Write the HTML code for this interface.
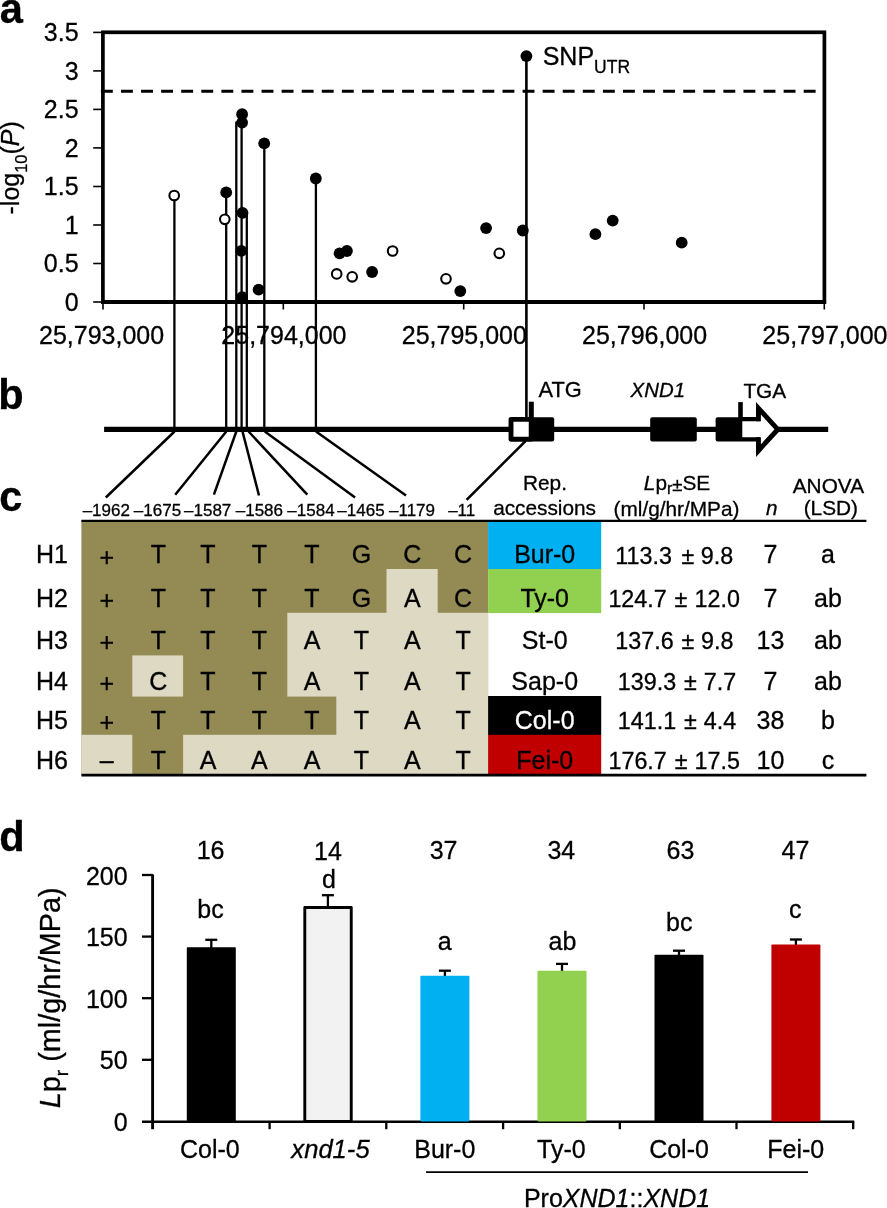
<!DOCTYPE html>
<html lang="en"><head><meta charset="utf-8"><title>Figure</title>
<style>html,body{margin:0;padding:0;background:#fff;}body{width:887px;height:1208px;overflow:hidden;}svg{display:block;font-family:"Liberation Sans",sans-serif;fill:#000;}.m{font-size:25px}.s{font-size:17px}.h{font-size:20.8px}.pl{font-size:41.6px;font-weight:bold}.i{font-style:italic}.mid{text-anchor:middle}.end{text-anchor:end}text{stroke:#000;stroke-width:.3px}.ln{stroke:#000;stroke-width:2.3;fill:none}.dg{stroke:#000;stroke-width:2.5;fill:none}</style></head><body>
<svg width="887" height="1208" viewBox="0 0 887 1208">
<rect width="887" height="1208" fill="#fff"/>
<g id="panel-a">
<text class="pl" x="-0.2" y="22.8">a</text>
<line x1="93.2" x2="102" y1="302.0" y2="302.0" stroke="#000" stroke-width="1.6"/>
<text class="m end" x="78.6" y="310.6">0</text>
<line x1="93.2" x2="102" y1="263.5" y2="263.5" stroke="#000" stroke-width="1.6"/>
<text class="m end" x="78.6" y="272.1">0.5</text>
<line x1="93.2" x2="102" y1="225.0" y2="225.0" stroke="#000" stroke-width="1.6"/>
<text class="m end" x="78.6" y="233.6">1</text>
<line x1="93.2" x2="102" y1="186.5" y2="186.5" stroke="#000" stroke-width="1.6"/>
<text class="m end" x="78.6" y="195.1">1.5</text>
<line x1="93.2" x2="102" y1="147.9" y2="147.9" stroke="#000" stroke-width="1.6"/>
<text class="m end" x="78.6" y="156.5">2</text>
<line x1="93.2" x2="102" y1="109.4" y2="109.4" stroke="#000" stroke-width="1.6"/>
<text class="m end" x="78.6" y="118.0">2.5</text>
<line x1="93.2" x2="102" y1="70.9" y2="70.9" stroke="#000" stroke-width="1.6"/>
<text class="m end" x="78.6" y="79.5">3</text>
<line x1="93.2" x2="102" y1="32.4" y2="32.4" stroke="#000" stroke-width="1.6"/>
<text class="m end" x="78.6" y="41.0">3.5</text>
<line x1="103.0" x2="103.0" y1="302" y2="309.5" stroke="#000" stroke-width="1.6"/>
<text class="m mid" x="101.6" y="343.8">25,793,000</text>
<line x1="283.3" x2="283.3" y1="302" y2="309.5" stroke="#000" stroke-width="1.6"/>
<text class="m mid" x="283.9" y="343.8">25,794,000</text>
<line x1="463.7" x2="463.7" y1="302" y2="309.5" stroke="#000" stroke-width="1.6"/>
<text class="m mid" x="464.3" y="343.8">25,795,000</text>
<line x1="644.0" x2="644.0" y1="302" y2="309.5" stroke="#000" stroke-width="1.6"/>
<text class="m mid" x="644.6" y="343.8">25,796,000</text>
<line x1="824.3" x2="824.3" y1="302" y2="309.5" stroke="#000" stroke-width="1.6"/>
<text class="m mid" x="824.9" y="343.8">25,797,000</text>
<text class="m" transform="translate(19.4,214.5) rotate(-90)">-log<tspan font-size="16.5" dy="7.8">10</tspan><tspan dy="-7.8">(</tspan><tspan class="i">P</tspan>)</text>
<line class="ln" x1="174.4" x2="174.4" y1="195.5" y2="429.3"/>
<line class="ln" x1="226.2" x2="226.2" y1="192.4" y2="429.3"/>
<line class="ln" x1="236.3" x2="236.3" y1="122.6" y2="429.3"/>
<line class="ln" x1="241.6" x2="241.6" y1="114.2" y2="429.3"/>
<line class="ln" x1="246.8" x2="246.8" y1="213.5" y2="429.3"/>
<line class="ln" x1="264.3" x2="264.3" y1="143.4" y2="429.3"/>
<line class="ln" x1="315.9" x2="315.9" y1="178.5" y2="429.3"/>
<line class="ln" x1="235.3" x2="242" y1="122.6" y2="122.6"/>
<line class="ln" x1="242" x2="247.8" y1="213.5" y2="213.5"/>
<line x1="526.4" x2="526.4" y1="56" y2="420" stroke="#000" stroke-width="2.6"/>
<rect x="102.9" y="32.3" width="721.5" height="269.6" fill="none" stroke="#000" stroke-width="3.7"/>
<line x1="101.2" x2="826.1" y1="302" y2="302" stroke="#000" stroke-width="3.8"/>
<line x1="100.9" x2="824" y1="91.2" y2="91.2" stroke="#000" stroke-width="3.05" stroke-dasharray="11.9 8.18"/>
<circle cx="242.1" cy="114.2" r="5.9"/>
<circle cx="242.1" cy="122.6" r="5.9"/>
<circle cx="264.2" cy="143.4" r="5.9"/>
<circle cx="226.2" cy="192.4" r="5.9"/>
<circle cx="242.5" cy="212.9" r="5.9"/>
<circle cx="241.3" cy="250.8" r="5.9"/>
<circle cx="258.6" cy="289.7" r="5.9"/>
<circle cx="242.1" cy="297.1" r="5.9"/>
<circle cx="315.8" cy="178.5" r="5.9"/>
<circle cx="339.6" cy="253.3" r="5.9"/>
<circle cx="346.9" cy="251.0" r="5.9"/>
<circle cx="372.1" cy="272.0" r="5.9"/>
<circle cx="460.3" cy="291.1" r="5.9"/>
<circle cx="486.1" cy="228.1" r="5.9"/>
<circle cx="522.8" cy="230.5" r="5.9"/>
<circle cx="526.4" cy="56.1" r="5.9"/>
<circle cx="595.4" cy="234.2" r="5.9"/>
<circle cx="612.7" cy="220.6" r="5.9"/>
<circle cx="681.7" cy="242.7" r="5.9"/>
<circle cx="174.2" cy="195.5" r="4.8" fill="#fff" stroke="#000" stroke-width="2.1"/>
<circle cx="224.8" cy="219.3" r="4.8" fill="#fff" stroke="#000" stroke-width="2.1"/>
<circle cx="336.7" cy="273.9" r="4.8" fill="#fff" stroke="#000" stroke-width="2.1"/>
<circle cx="352.2" cy="276.8" r="4.8" fill="#fff" stroke="#000" stroke-width="2.1"/>
<circle cx="392.6" cy="251.0" r="4.8" fill="#fff" stroke="#000" stroke-width="2.1"/>
<circle cx="446.0" cy="278.8" r="4.8" fill="#fff" stroke="#000" stroke-width="2.1"/>
<circle cx="499.3" cy="253.3" r="4.8" fill="#fff" stroke="#000" stroke-width="2.1"/>
<text class="m" x="542.7" y="64.5">SNP<tspan font-size="17.5" dy="8.3">UTR</tspan></text>
</g>
<g id="panel-b">
<text class="pl" x="-1.8" y="409.3">b</text>
<line x1="104.1" x2="828.2" y1="429.3" y2="429.3" stroke="#000" stroke-width="5.2"/>
<line class="dg" x1="174.5" y1="431.5" x2="105.8" y2="497.5"/>
<line class="dg" x1="226.3" y1="431.5" x2="175.2" y2="494.7"/>
<line class="dg" x1="236.3" y1="431.5" x2="213.9" y2="494.7"/>
<line class="dg" x1="242.5" y1="431.5" x2="259.0" y2="495.5"/>
<line class="dg" x1="248.6" y1="431.5" x2="307.3" y2="494.7"/>
<line class="dg" x1="264.8" y1="431.5" x2="355.1" y2="497.5"/>
<line class="dg" x1="316.0" y1="431.5" x2="406.0" y2="495.5"/>
<line class="dg" x1="525.6" y1="441.0" x2="466.6" y2="499.8"/>
<rect x="511" y="419.4" width="20.2" height="19.8" fill="#fff" stroke="#000" stroke-width="4.9" stroke-linejoin="round"/>
<rect x="530.2" y="417.2" width="24" height="24.4" rx="2"/>
<line x1="531.3" x2="531.3" y1="401.7" y2="420" stroke="#000" stroke-width="5"/>
<rect x="650.2" y="417.2" width="46.6" height="24.4" rx="2"/>
<path d="M741 419.2 H758.45 V408.2 L777.8 429.4 L758.45 450.6 V439.45 H741 Z" fill="#fff"/>
<path d="M741 419.2 H760 M741 439.45 H760" fill="none" stroke="#000" stroke-width="4.2"/>
<path d="M758.45 421.3 V408.2 L777.8 429.4 L758.45 450.6 V437.35" fill="none" stroke="#000" stroke-width="4.9" stroke-linejoin="miter" stroke-miterlimit="10"/>
<rect x="715.6" y="417.2" width="26.7" height="24.4" rx="2"/>
<line x1="740.5" x2="740.5" y1="402.1" y2="420" stroke="#000" stroke-width="4.6"/>
<text x="538.6" y="396.7" font-size="21.8">ATG</text>
<text class="i" x="630.6" y="396.7" font-size="20.4">XND1</text>
<text x="743.4" y="397.5" font-size="20.8">TGA</text>
</g>
<g id="panel-c">
<text class="pl" x="-0.8" y="510.9">c</text>
<rect x="81.4" y="520.5" width="406.7" height="254.0" fill="#948a54"/>
<rect x="386.5" y="569.0" width="51.2" height="44.4" fill="#ddd9c3"/>
<rect x="287.3" y="612.8" width="200.8" height="83.8" fill="#ddd9c3"/>
<rect x="132.3" y="655.4" width="50.8" height="41.2" fill="#ddd9c3"/>
<rect x="336.3" y="696.0" width="151.8" height="39.4" fill="#ddd9c3"/>
<rect x="81.4" y="734.8" width="50.9" height="39.7" fill="#ddd9c3"/>
<rect x="183.1" y="734.8" width="305.0" height="39.7" fill="#ddd9c3"/>
<rect x="488.1" y="520.5" width="113.1" height="48.8" fill="#00b0f0"/>
<rect x="488.1" y="569.0" width="113.1" height="44.1" fill="#92d050"/>
<rect x="488.1" y="696.0" width="113.1" height="39.1" fill="#000"/>
<rect x="488.1" y="734.8" width="113.1" height="40.0" fill="#c00000"/>
<text class="m" x="36" y="563.3">H1</text>
<text class="m mid" x="106.7" y="565.6">+</text>
<text class="m mid" x="158.3" y="563.3">T</text>
<text class="m mid" x="208.0" y="563.3">T</text>
<text class="m mid" x="259.3" y="563.3">T</text>
<text class="m mid" x="312.0" y="563.3">T</text>
<text class="m mid" x="361.4" y="563.3">G</text>
<text class="m mid" x="412.3" y="563.3">C</text>
<text class="m mid" x="463.1" y="563.3">C</text>
<text class="m mid" x="544.7" y="563.3" style="fill:#000;stroke:#000">Bur-0</text>
<text font-size="23.3" x="615.3" y="563.5">113.3</text>
<text class="mid" font-size="23.3" x="687.9" y="563.5">±</text>
<text class="end" font-size="23.3" x="733.2" y="563.5">9.8</text>
<text class="m mid" x="770.5" y="563.3">7</text>
<text class="m mid" x="828" y="563.3">a</text>
<text class="m" x="36" y="606.6">H2</text>
<text class="m mid" x="106.7" y="608.9">+</text>
<text class="m mid" x="158.3" y="606.6">T</text>
<text class="m mid" x="208.0" y="606.6">T</text>
<text class="m mid" x="259.3" y="606.6">T</text>
<text class="m mid" x="312.0" y="606.6">T</text>
<text class="m mid" x="361.4" y="606.6">G</text>
<text class="m mid" x="412.3" y="606.6">A</text>
<text class="m mid" x="463.1" y="606.6">C</text>
<text class="m mid" x="544.7" y="606.6" style="fill:#000;stroke:#000">Ty-0</text>
<text font-size="23.3" x="608.4" y="606.8">124.7</text>
<text class="mid" font-size="23.3" x="681.0" y="606.8">±</text>
<text class="end" font-size="23.3" x="739.9" y="606.8">12.0</text>
<text class="m mid" x="770.5" y="606.6">7</text>
<text class="m mid" x="828" y="606.6">ab</text>
<text class="m" x="36" y="648.9">H3</text>
<text class="m mid" x="106.7" y="651.2">+</text>
<text class="m mid" x="158.3" y="648.9">T</text>
<text class="m mid" x="208.0" y="648.9">T</text>
<text class="m mid" x="259.3" y="648.9">T</text>
<text class="m mid" x="312.0" y="648.9">A</text>
<text class="m mid" x="361.4" y="648.9">T</text>
<text class="m mid" x="412.3" y="648.9">A</text>
<text class="m mid" x="463.1" y="648.9">T</text>
<text class="m mid" x="544.7" y="648.9" style="fill:#000;stroke:#000">St-0</text>
<text font-size="23.3" x="615.3" y="649.1">137.6</text>
<text class="mid" font-size="23.3" x="687.9" y="649.1">±</text>
<text class="end" font-size="23.3" x="733.4" y="649.1">9.8</text>
<text class="m mid" x="770.5" y="648.9">13</text>
<text class="m mid" x="828" y="648.9">ab</text>
<text class="m" x="36" y="689.8">H4</text>
<text class="m mid" x="106.7" y="692.1">+</text>
<text class="m mid" x="158.3" y="689.8">C</text>
<text class="m mid" x="208.0" y="689.8">T</text>
<text class="m mid" x="259.3" y="689.8">T</text>
<text class="m mid" x="312.0" y="689.8">A</text>
<text class="m mid" x="361.4" y="689.8">T</text>
<text class="m mid" x="412.3" y="689.8">A</text>
<text class="m mid" x="463.1" y="689.8">T</text>
<text class="m mid" x="544.7" y="689.8" style="fill:#000;stroke:#000">Sap-0</text>
<text font-size="23.3" x="617.8" y="690.0">139.3</text>
<text class="mid" font-size="23.3" x="690.4" y="690.0">±</text>
<text class="end" font-size="23.3" x="736.1" y="690.0">7.7</text>
<text class="m mid" x="770.5" y="689.8">7</text>
<text class="m mid" x="828" y="689.8">ab</text>
<text class="m" x="36" y="729.1">H5</text>
<text class="m mid" x="106.7" y="731.4">+</text>
<text class="m mid" x="158.3" y="729.1">T</text>
<text class="m mid" x="208.0" y="729.1">T</text>
<text class="m mid" x="259.3" y="729.1">T</text>
<text class="m mid" x="312.0" y="729.1">T</text>
<text class="m mid" x="361.4" y="729.1">T</text>
<text class="m mid" x="412.3" y="729.1">A</text>
<text class="m mid" x="463.1" y="729.1">T</text>
<text class="m mid" x="544.7" y="729.1" style="fill:#fff;stroke:#fff">Col-0</text>
<text font-size="23.3" x="617.8" y="729.3">141.1</text>
<text class="mid" font-size="23.3" x="690.4" y="729.3">±</text>
<text class="end" font-size="23.3" x="736.1" y="729.3">4.4</text>
<text class="m mid" x="770.5" y="729.1">38</text>
<text class="m mid" x="828" y="729.1">b</text>
<text class="m" x="36" y="768.6">H6</text>
<text class="m mid" x="106.7" y="769.2">–</text>
<text class="m mid" x="158.3" y="768.6">T</text>
<text class="m mid" x="208.0" y="768.6">A</text>
<text class="m mid" x="259.3" y="768.6">A</text>
<text class="m mid" x="312.0" y="768.6">A</text>
<text class="m mid" x="361.4" y="768.6">T</text>
<text class="m mid" x="412.3" y="768.6">A</text>
<text class="m mid" x="463.1" y="768.6">T</text>
<text class="m mid" x="544.7" y="768.6" style="fill:#000;stroke:#000">Fei-0</text>
<text font-size="23.3" x="608.5" y="768.8">176.7</text>
<text class="mid" font-size="23.3" x="681.1" y="768.8">±</text>
<text class="end" font-size="23.3" x="739.9" y="768.8">17.5</text>
<text class="m mid" x="770.5" y="768.6">10</text>
<text class="m mid" x="828" y="768.6">c</text>
<line x1="81.4" x2="866.4" y1="520.9" y2="520.9" stroke="#000" stroke-width="2.2"/>
<line x1="81.4" x2="866.4" y1="775.2" y2="775.2" stroke="#000" stroke-width="2.7"/>
<text class="s mid" x="106.3" y="516.2">–1962</text>
<text class="s mid" x="157.5" y="516.2">–1675</text>
<text class="s mid" x="207.7" y="516.2">–1587</text>
<text class="s mid" x="259.4" y="516.2">–1586</text>
<text class="s mid" x="311.0" y="516.2">–1584</text>
<text class="s mid" x="361.0" y="516.2">–1465</text>
<text class="s mid" x="412.0" y="516.2">–1179</text>
<text class="s mid" x="461.7" y="516.2">–11</text>
<text class="h mid" x="545" y="489.5">Rep.</text>
<text class="h mid" x="544.6" y="515.4">accessions</text>
<text class="h mid" x="677" y="490.2"><tspan class="i">L</tspan>p<tspan font-size="16" dy="4.2">r</tspan><tspan dy="-3.6" font-size="18.5">±</tspan><tspan dy="-0.6">SE</tspan></text>
<text class="h mid" x="676.5" y="515.5">(ml/g/hr/MPa)</text>
<text class="h mid i" x="771.8" y="515.4">n</text>
<text class="h mid" x="828.4" y="492.7">ANOVA</text>
<text class="h mid" x="830.8" y="515.4">(LSD)</text>
</g>
<g id="panel-d">
<text class="pl" x="-0.8" y="850.9">d</text>
<line x1="152.6" x2="152.6" y1="874.5" y2="1122.4" stroke="#000" stroke-width="2.9"/>
<line x1="142" x2="854.2" y1="1121.7" y2="1121.7" stroke="#000" stroke-width="2.5"/>
<line x1="142" x2="152.9" y1="1059.8" y2="1059.8" stroke="#000" stroke-width="2.3"/>
<line x1="142" x2="152.9" y1="998.2" y2="998.2" stroke="#000" stroke-width="2.3"/>
<line x1="142" x2="152.9" y1="936.6" y2="936.6" stroke="#000" stroke-width="2.3"/>
<line x1="142" x2="152.9" y1="875.0" y2="875.0" stroke="#000" stroke-width="2.3"/>
<text class="m end" x="127.6" y="1130.9">0</text>
<text class="m end" x="127.6" y="1069.3">50</text>
<text class="m end" x="127.6" y="1007.7">100</text>
<text class="m end" x="127.6" y="946.1">150</text>
<text class="m end" x="127.6" y="884.5">200</text>
<line x1="152.6" x2="152.6" y1="1121.4" y2="1129.2" stroke="#000" stroke-width="2.9"/>
<line x1="269.6" x2="269.6" y1="1121.4" y2="1129.2" stroke="#000" stroke-width="2.3"/>
<line x1="386.3" x2="386.3" y1="1121.4" y2="1129.2" stroke="#000" stroke-width="2.3"/>
<line x1="503.1" x2="503.1" y1="1121.4" y2="1129.2" stroke="#000" stroke-width="2.3"/>
<line x1="619.8" x2="619.8" y1="1121.4" y2="1129.2" stroke="#000" stroke-width="2.3"/>
<line x1="736.5" x2="736.5" y1="1121.4" y2="1129.2" stroke="#000" stroke-width="2.3"/>
<line x1="853.2" x2="853.2" y1="1121.4" y2="1129.2" stroke="#000" stroke-width="2.3"/>
<line class="ln" x1="211.3" x2="211.3" y1="939.8" y2="949.3"/>
<line class="ln" x1="205.3" x2="217.3" y1="939.8" y2="939.8"/>
<rect x="186.8" y="947.3" width="49" height="174.1" fill="#000" rx="0.8"/>
<text class="m mid" x="210.6" y="859.3">16</text>
<text class="m mid" x="210.5" y="917.5">bc</text>
<text class="m mid" x="209.8" y="1157.8">Col-0</text>
<line class="ln" x1="327.9" x2="327.9" y1="895.2" y2="907.7"/>
<line class="ln" x1="321.9" x2="333.9" y1="895.2" y2="895.2"/>
<rect x="304.8" y="907.5" width="46.45" height="213.9" fill="#f2f2f2" stroke="#000" stroke-width="2.9" stroke-linejoin="round"/>
<text class="m mid" x="327.9" y="860.0">14</text>
<text class="m mid" x="328.9" y="887.8">d</text>
<text class="mid i" font-size="25.6" x="330.5" y="1157.8">xnd1-5</text>
<line class="ln" x1="444.9" x2="444.9" y1="970.7" y2="977.7"/>
<line class="ln" x1="438.9" x2="450.9" y1="970.7" y2="970.7"/>
<rect x="420.4" y="975.7" width="49" height="145.7" fill="#00b0f0" rx="0.8"/>
<text class="m mid" x="443.6" y="858.6">37</text>
<text class="m mid" x="444.8" y="950.0">a</text>
<text class="m mid" x="444.8" y="1157.8">Bur-0</text>
<line class="ln" x1="562.0" x2="562.0" y1="963.9" y2="972.7"/>
<line class="ln" x1="556.0" x2="568.0" y1="963.9" y2="963.9"/>
<rect x="537.5" y="970.7" width="49" height="150.7" fill="#92d050" rx="0.8"/>
<text class="m mid" x="561.3" y="858.6">34</text>
<text class="m mid" x="562.4" y="950.0">ab</text>
<text class="m mid" x="561.3" y="1157.8">Ty-0</text>
<line class="ln" x1="679.0" x2="679.0" y1="950.7" y2="956.8"/>
<line class="ln" x1="673.0" x2="685.0" y1="950.7" y2="950.7"/>
<rect x="654.5" y="954.8" width="49" height="166.6" fill="#000" rx="0.8"/>
<text class="m mid" x="680.4" y="858.6">63</text>
<text class="m mid" x="679.2" y="930.8">bc</text>
<text class="m mid" x="679.0" y="1157.8">Col-0</text>
<line class="ln" x1="795.9" x2="795.9" y1="939.5" y2="946.6"/>
<line class="ln" x1="789.9" x2="801.9" y1="939.5" y2="939.5"/>
<rect x="771.4" y="944.6" width="49" height="176.8" fill="#c00000" rx="0.8"/>
<text class="m mid" x="795.5" y="858.6">47</text>
<text class="m mid" x="795.3" y="917.9">c</text>
<text class="m mid" x="795.7" y="1157.8">Fei-0</text>
<line x1="426.1" x2="808" y1="1172.2" y2="1172.2" stroke="#000" stroke-width="1.8"/>
<text class="m mid" x="617" y="1207.2">Pro<tspan class="i">XND1</tspan>::<tspan class="i">XND1</tspan></text>
<text font-size="28.8" transform="translate(60.4,1108.2) rotate(-90)"><tspan class="i">L</tspan>p<tspan font-size="19" dy="8">r</tspan><tspan dy="-8"> (ml/g/hr/MPa)</tspan></text>
</g>
</svg></body></html>
